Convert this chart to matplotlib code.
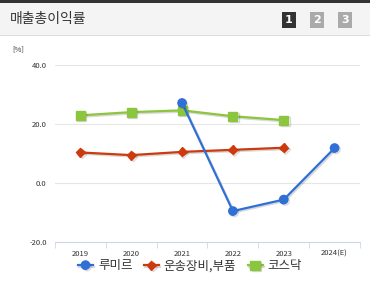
import numpy as np
import matplotlib.pyplot as plt
import matplotlib.patheffects as pe
from matplotlib.patches import Rectangle

plt.rcParams['font.family'] = ['Noto Sans CJK KR', 'DejaVu Sans']

years = ["2019", "2020", "2021", "2022", "2023", "2024(E)"]
lumir = [np.nan, np.nan, 27.1, -9.6, -5.7, 11.8]
transport = [10.3, 9.4, 10.5, 11.2, 11.9, np.nan]
kosdaq = [22.9, 24.0, 24.6, 22.6, 21.3, np.nan]
series_names = ["루미르", "운송장비,부품", "코스닥"]

fig = plt.figure(figsize=(3.7, 2.85), dpi=100)

# header band
fig.patches.append(Rectangle((0, 1 - 35 / 285), 1, 32 / 285, transform=fig.transFigure,
                             facecolor="#f4f4f4", edgecolor="none", zorder=0))
fig.patches.append(Rectangle((0, 1 - 3 / 285), 1, 3 / 285, transform=fig.transFigure,
                             facecolor="#333333", edgecolor="none", zorder=1))
fig.patches.append(Rectangle((0, 1 - 36 / 285), 1, 1 / 285, transform=fig.transFigure,
                             facecolor="#dddddd", edgecolor="none", zorder=1))
fig.text(10 / 370, 1 - 19 / 285, "매출총이익률", fontsize=10, color="#333333", va="center")
for i, (lbl, col) in enumerate(zip(["1", "2", "3"], ["#333333", "#aaaaaa", "#aaaaaa"])):
    x0 = 282 + i * 28
    fig.patches.append(Rectangle((x0 / 370, 1 - 28 / 285), 14 / 370, 16 / 285,
                                 transform=fig.transFigure, facecolor=col, edgecolor="none"))
    fig.text((x0 + 7) / 370, 1 - 20 / 285, lbl, fontsize=8, fontweight="bold",
             color="white", ha="center", va="center", family="DejaVu Sans")

fig.text(12 / 370, 1 - 49 / 285, "[%]", fontsize=5.5, color="#333333", va="center")

ax = fig.add_axes([55 / 370, 1 - 241.7 / 285, 305 / 370, 176.7 / 285])
x = np.arange(len(years))
shadow = [pe.SimpleLineShadow(offset=(1, -1), alpha=0.15, shadow_color="black"), pe.Normal()]

ax.plot(x, lumir, color="#2f6fd6", lw=1.6, marker="o", ms=6, label=series_names[0],
        zorder=5, path_effects=shadow)
ax.plot(x, transport, color="#cc3a0e", lw=1.6, marker="D", ms=4.5, label=series_names[1],
        zorder=4, path_effects=shadow)
ax.plot(x, kosdaq, color="#8cc63e", lw=1.6, marker="s", ms=6.5, label=series_names[2],
        zorder=3, path_effects=shadow)

ax.set_xlim(-0.5, 5.5)
ax.set_ylim(-20, 40)
ax.set_yticks([-20, 0, 20, 40])
ax.set_yticklabels(["-20.0", "0.0", "20.0", "40.0"])
ax.set_xticks(x)
ax.set_xticklabels(years)
ax.set_xticks(np.arange(-0.5, 6, 1), minor=True)
ax.tick_params(axis="x", which="major", length=0, labelsize=5.5, colors="#333333", pad=6)
ax.tick_params(axis="x", which="minor", length=4, color="#ccd6eb", direction="out")
ax.tick_params(axis="y", length=0, labelsize=5.5, colors="#333333", pad=6)
for s in ["top", "right", "left"]:
    ax.spines[s].set_visible(False)
ax.spines["bottom"].set_color("#ccd6eb")
for yv in [0, 20, 40]:
    ax.axhline(yv, color="#e6e6e6", lw=0.8, zorder=0)

fig.legend(loc="center", bbox_to_anchor=(190 / 370, 1 - 266 / 285), ncol=3, frameon=False,
           fontsize=9, handlelength=1.2, handletextpad=0.4, columnspacing=0.9, labelcolor="#333333")

fig.savefig("out.png", dpi=100)
